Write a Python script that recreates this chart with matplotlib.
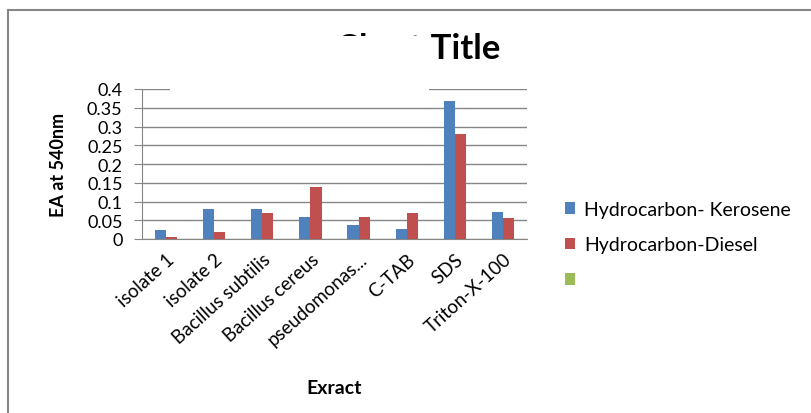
import numpy as np
import matplotlib
matplotlib.use('Agg')
import matplotlib.pyplot as plt
from matplotlib.patches import Rectangle

plt.rcParams['font.family'] = ['Lato', 'DejaVu Sans']

categories = ['isolate 1', 'isolate 2', 'Bacillus subtilis', 'Bacillus cereus',
              'pseudomonas...', 'C-TAB', 'SDS', 'Triton-X-100']
kerosene = [0.025, 0.08, 0.08, 0.06, 0.038, 0.027, 0.367, 0.072]
diesel = [0.005, 0.02, 0.07, 0.138, 0.06, 0.07, 0.28, 0.057]
yticks = [0, 0.05, 0.1, 0.15, 0.2, 0.25, 0.3, 0.35, 0.4]
ylabels = ['0', '0.05', '0.1', '0.15', '0.2', '0.25', '0.3', '0.35', '0.4']

W, H = 812, 414
fig = plt.figure(figsize=(W / 100, H / 100), dpi=100)
# axes: x 142..527, y 90..240 (pixels)
ax = fig.add_axes([142 / W, 1 - 240 / H, (527 - 142) / W, 150 / H])

x = np.arange(len(categories))
bw = 0.23
ax.bar(x - bw / 2, kerosene, bw, color='#4F81BD', label='Hydrocarbon- Kerosene', zorder=3)
ax.bar(x + bw / 2, diesel, bw, color='#C0504D', label='Hydrocarbon-Diesel', zorder=3)
ax.bar(x, [0] * len(x), 0, color='#9BBB59', label=' ')

ax.set_xlim(-0.5, len(categories) - 0.5)
ax.set_ylim(0, 0.4)
ax.set_yticks(yticks)
ax.set_yticklabels(ylabels, fontsize=13)
ax.set_xticks(x)
ax.set_xticklabels(categories, rotation=42, ha='right', rotation_mode='anchor', fontsize=13.5)
ax.tick_params(axis='x', length=0, pad=8)
ax.tick_params(axis='y', length=6, color='#868686', pad=8)
ax.grid(axis='y', color='#868686', linewidth=1, zorder=0)
for s in ['top', 'right']:
    ax.spines[s].set_visible(False)
ax.spines['left'].set_color('#868686')
ax.spines['bottom'].set_color('#868686')
ax.set_ylabel('EA at 540nm', fontsize=13, fontweight='bold', labelpad=14)
ax.set_xlabel('Exract', fontsize=14, fontweight='bold', labelpad=22)

leg = ax.legend(loc='center left', bbox_to_anchor=(547 / W, 1 - 246 / H),
                bbox_transform=fig.transFigure, frameon=False, fontsize=14,
                handlelength=0.55, handleheight=0.55, handletextpad=0.45, labelspacing=0.95)

# chart title, partly hidden as in the original
fig.text(418 / W, 1 - 49 / H, 'Chart Title', ha='center', va='center',
         fontsize=25, fontweight='bold')
fig.patches.append(Rectangle((170 / W, 1 - 92 / H), (429 - 170) / W, (92 - 37) / H,
                             transform=fig.transFigure, facecolor='white',
                             edgecolor='none', zorder=5))

# outer chart frame (left and top edges visible)
fig.lines.append(plt.Line2D([8 / W, 8 / W], [0, 1 - 11 / H], transform=fig.transFigure,
                            color='#868686', linewidth=1.5))
fig.lines.append(plt.Line2D([8 / W, 1], [1 - 11 / H, 1 - 11 / H], transform=fig.transFigure,
                            color='#868686', linewidth=1.5))

fig.savefig('out.png', dpi=100)
